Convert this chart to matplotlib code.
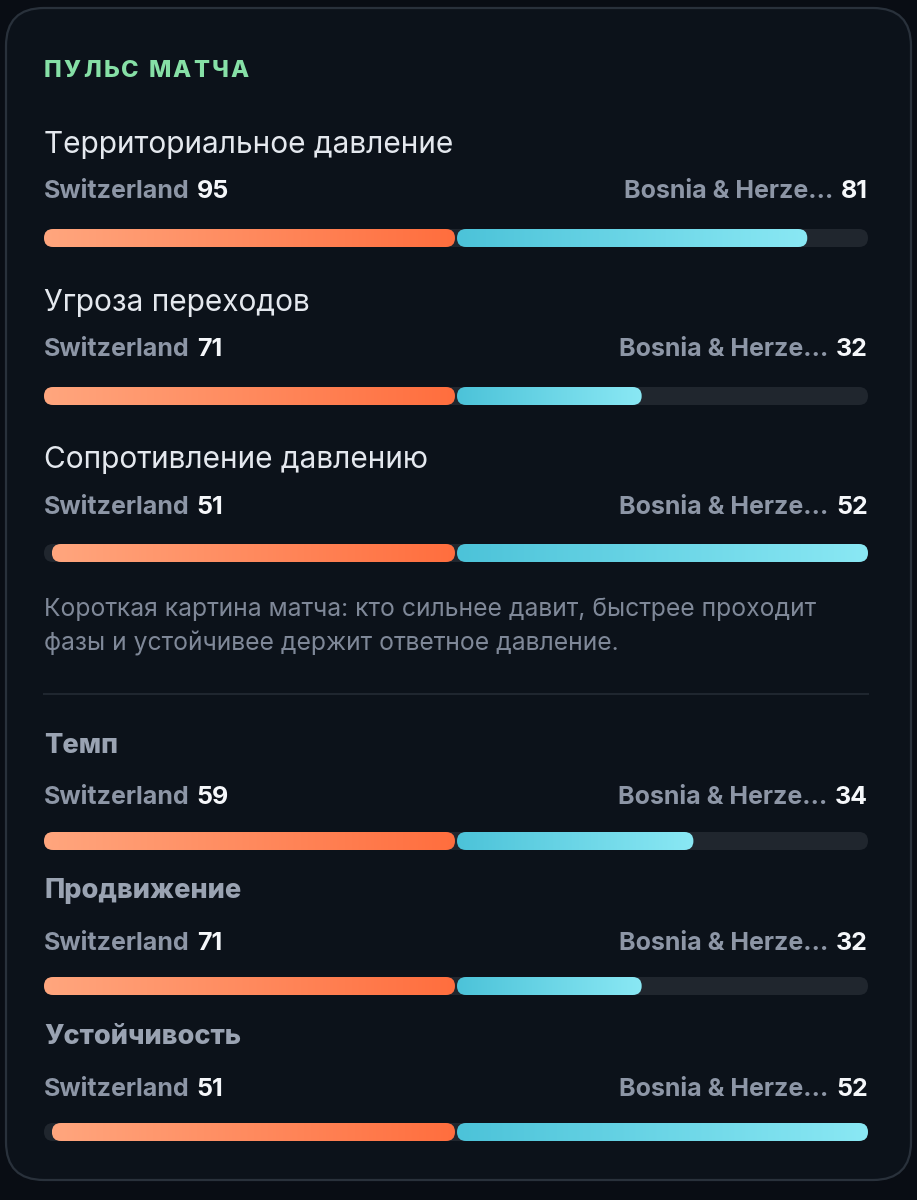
import numpy as np
import matplotlib
matplotlib.use("Agg")
import matplotlib.pyplot as plt
from matplotlib.patches import FancyBboxPatch
from matplotlib.colors import LinearSegmentedColormap

plt.rcParams['font.family'] = ['Inter', 'Noto Sans', 'DejaVu Sans']

# ===================== данные =====================
TITLE = "ПУЛЬС МАТЧА"
TEAM_LEFT = "Switzerland"
TEAM_RIGHT = "Bosnia & Herze…"

main_metrics = ["Территориальное давление", "Угроза переходов", "Сопротивление давлению"]
main_left = [95, 71, 51]
main_right = [81, 32, 52]

note_lines = ["Короткая картина матча: кто сильнее давит, быстрее проходит",
              "фазы и устойчивее держит ответное давление."]

extra_metrics = ["Темп", "Продвижение", "Устойчивость"]
extra_left = [59, 71, 51]
extra_right = [34, 32, 52]

# ===================== стиль =====================
W, H = 917, 1200
BG = '#090d14'
CARD = '#0c121a'
BORDER = '#29313b'
GREEN = '#86e0a6'
LIGHT = '#e4e8ee'
GRAY = '#8d96a6'
WHITE = '#f5f7fa'
TRACK = '#20262e'
X0, X1 = 44, 868
MID = (X0 + X1) / 2
BAR_H = 18

orange = LinearSegmentedColormap.from_list('o', ['#ffa67e', '#ff6e3e'])
cyan = LinearSegmentedColormap.from_list('c', ['#4cc3d9', '#8ae8f4'])

fig = plt.figure(figsize=(W / 100, H / 100), dpi=100, facecolor=BG)
ax = fig.add_axes([0, 0, 1, 1])
ax.set_xlim(0, W)
ax.set_ylim(H, 0)
ax.axis('off')
renderer = fig.canvas.get_renderer()


def text_width(t):
    return t.get_window_extent(renderer=renderer).width


# карточка
ax.add_patch(FancyBboxPatch((6, 8), W - 12, 1172, boxstyle="round,pad=0,rounding_size=38",
                            fc=CARD, ec=BORDER, lw=1.6, zorder=0.5))

# заголовок с разрядкой
x = X0
for ch in TITLE:
    t = ax.text(x, 71, ch, color=GREEN, fontsize=17, fontweight='heavy', va='center', ha='left')
    x += text_width(t) + 2.2


def rounded(x, y, w, h, z=1, **kw):
    p = FancyBboxPatch((x, y - h / 2), w, h, boxstyle=f"round,pad=0,rounding_size={h / 2}",
                       zorder=z, **kw)
    ax.add_patch(p)
    return p


def gradient_bar(x, y, w, cmap):
    p = rounded(x, y, w, BAR_H, fc='none', ec='none')
    img = ax.imshow(np.linspace(0, 1, 256).reshape(1, -1), cmap=cmap, aspect='auto',
                    extent=(x, x + w, y + BAR_H / 2, y - BAR_H / 2),
                    interpolation='bilinear', zorder=2)
    img.set_clip_path(p)


def duel(y_label, y_bar, lv, rv):
    t = ax.text(X0, y_label, TEAM_LEFT, color=GRAY, fontsize=18, fontweight='bold', va='center')
    ax.text(X0 + text_width(t) + 7, y_label, str(lv), color=WHITE, fontsize=18,
            fontweight='bold', va='center')
    n = ax.text(X1, y_label, str(rv), color=WHITE, fontsize=18, fontweight='bold',
                va='center', ha='right')
    ax.text(X1 - text_width(n) - 8, y_label, TEAM_RIGHT, color=GRAY, fontsize=18,
            fontweight='bold', va='center', ha='right')

    rounded(X0, y_bar, X1 - X0, BAR_H, fc=TRACK, ec='none')
    top = max(lv, rv)
    half = MID - X0
    lw_ = half * lv / top
    rw_ = half * rv / top
    gradient_bar(MID - lw_, y_bar, lw_ - 1, orange)
    gradient_bar(MID + 1, y_bar, rw_ - 1, cyan)


main_y = [143, 301, 458]
for name, lv, rv, y in zip(main_metrics, main_left, main_right, main_y):
    ax.text(X0, y + 2, name, color=LIGHT, fontsize=21.5, va='center')
    duel(y + 49, y + 95, lv, rv)

for i, line in enumerate(note_lines):
    ax.text(X0, 609 + 35 * i, line, color='#7f8898', fontsize=17.8, va='center')

ax.plot([X0, X1], [694, 694], color='#1f262f', lw=1.5)

extra_y = [745, 890, 1036]
for name, lv, rv, y in zip(extra_metrics, extra_left, extra_right, extra_y):
    ax.text(X0, y + 1, name, color='#9aa3b2', fontsize=19.5, fontweight='heavy', va='center')
    duel(y + 53, y + 96, lv, rv)

fig.savefig('out.png', dpi=100, facecolor=BG)
